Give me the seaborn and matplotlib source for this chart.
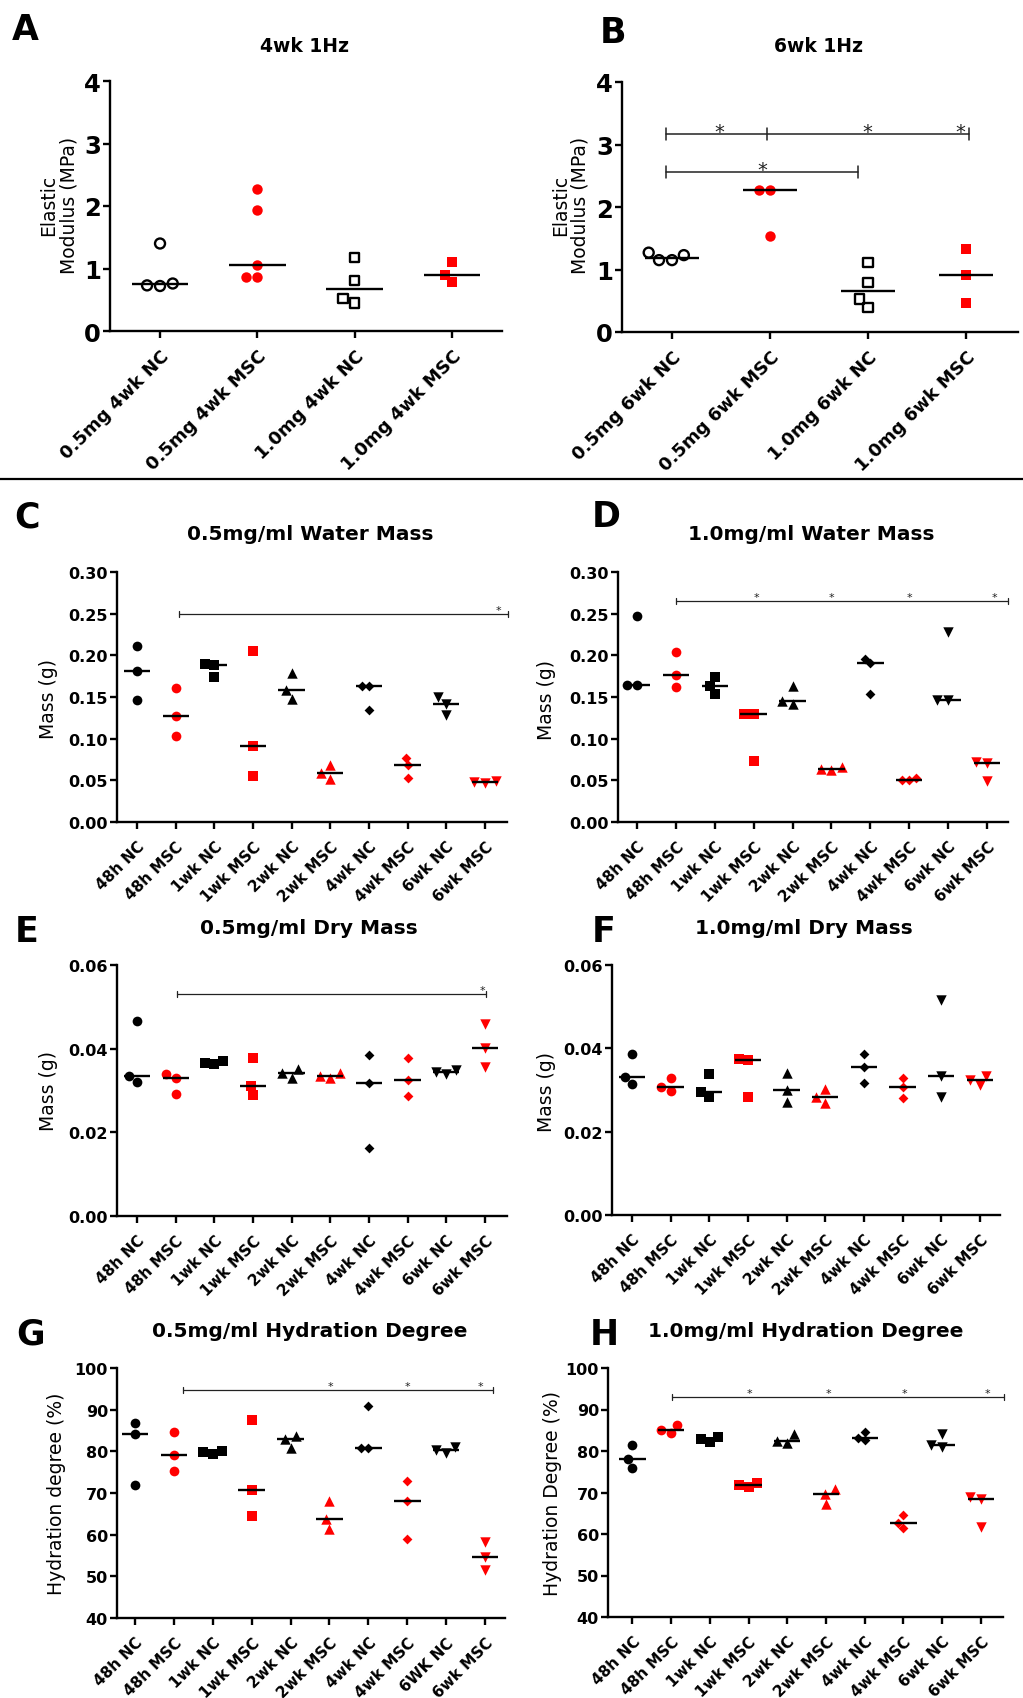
import numpy as np
import pandas as pd
import matplotlib
matplotlib.use("Agg")
import matplotlib.pyplot as plt
from matplotlib.lines import Line2D
import seaborn as sns

sns.set_theme(style="ticks")
plt.rcParams['font.family'] = ['DejaVu Sans']
plt.rcParams['axes.linewidth'] = 1.6
plt.rcParams['text.color'] = 'black'
plt.rcParams['axes.labelcolor'] = 'black'
plt.rcParams['xtick.color'] = 'black'
plt.rcParams['ytick.color'] = 'black'
plt.rcParams['axes.edgecolor'] = 'black'

# ---------------- data ----------------
cats_A = ["0.5mg 4wk NC", "0.5mg 4wk MSC", "1.0mg 4wk NC", "1.0mg 4wk MSC"]
vals_A = [[1.40, 0.76, 0.72, 0.73],
          [2.27, 1.93, 1.05, 0.87, 0.87],
          [1.18, 0.81, 0.52, 0.45],
          [1.10, 0.79, 0.90]]

cats_B = ["0.5mg 6wk NC", "0.5mg 6wk MSC", "1.0mg 6wk NC", "1.0mg 6wk MSC"]
vals_B = [[1.23, 1.15, 1.15, 1.27],
          [2.27, 2.27, 1.54],
          [1.11, 0.79, 0.53, 0.39],
          [1.33, 0.91, 0.47]]

time_cats = ["48h NC", "48h MSC", "1wk NC", "1wk MSC", "2wk NC",
             "2wk MSC", "4wk NC", "4wk MSC", "6wk NC", "6wk MSC"]
time_cats_G = ["48h NC", "48h MSC", "1wk NC", "1wk MSC", "2wk NC",
               "2wk MSC", "4wk NC", "4wk MSC", "6WK NC", "6wk MSC"]

vals_C = [[0.211, 0.181, 0.146], [0.161, 0.127, 0.103], [0.190, 0.188, 0.174],
          [0.205, 0.091, 0.055], [0.179, 0.159, 0.148], [0.069, 0.059, 0.052],
          [0.163, 0.163, 0.134], [0.077, 0.069, 0.053], [0.150, 0.142, 0.128],
          [0.049, 0.048, 0.047]]
vals_D = [[0.247, 0.165, 0.165], [0.204, 0.176, 0.162], [0.174, 0.163, 0.154],
          [0.130, 0.130, 0.073], [0.163, 0.145, 0.142], [0.066, 0.064, 0.062],
          [0.196, 0.191, 0.154], [0.053, 0.051, 0.050], [0.228, 0.146, 0.146],
          [0.072, 0.071, 0.049]]
vals_E = [[0.0465, 0.0335, 0.0321], [0.0339, 0.0331, 0.0291], [0.0370, 0.0365, 0.0363],
          [0.0377, 0.0310, 0.0289], [0.0351, 0.0343, 0.0331], [0.0343, 0.0335, 0.0330],
          [0.0385, 0.0319, 0.0162], [0.0377, 0.0326, 0.0286], [0.0350, 0.0345, 0.0340],
          [0.0459, 0.0401, 0.0357]]
vals_F = [[0.0386, 0.0332, 0.0314], [0.0328, 0.0308, 0.0298], [0.0338, 0.0296, 0.0284],
          [0.0374, 0.0372, 0.0284], [0.0342, 0.0299, 0.0272], [0.0302, 0.0283, 0.0270],
          [0.0386, 0.0356, 0.0318], [0.0328, 0.0308, 0.0280], [0.0517, 0.0333, 0.0284],
          [0.0333, 0.0324, 0.0312]]
vals_G = [[86.8, 84.2, 72.0], [84.6, 79.2, 75.4], [80.2, 79.8, 79.4],
          [87.6, 70.8, 64.6], [83.6, 83.0, 80.8], [68.2, 63.7, 61.3],
          [90.8, 80.9, 80.9], [73.0, 68.1, 59.0], [81.0, 80.3, 79.6],
          [58.3, 54.6, 51.5]]
vals_H = [[81.4, 78.0, 75.9], [86.2, 85.0, 84.3], [83.4, 82.8, 82.2],
          [72.2, 71.8, 71.3], [84.0, 82.5, 82.0], [70.8, 69.7, 67.2],
          [84.5, 83.1, 82.7], [64.6, 62.6, 61.5], [84.0, 81.5, 81.0],
          [69.0, 68.5, 61.8]]

# significance bars: (x_start, x_end, y, caps, star x positions)
sig_B = [(-0.06, 3.03, 3.17, [-0.06, 0.97, 3.03], [0.48, 1.99, 2.94]),
         (-0.06, 1.90, 2.56, [-0.06, 1.90], [0.92])]
sig_C = [(1.08, 9.60, 0.250, [1.08, 9.60], [9.36])]
sig_D = [(1.00, 9.55, 0.265, [1.00, 9.55], [3.08, 5.00, 7.00, 9.18])]
sig_E = [(1.03, 9.02, 0.0531, [1.03, 9.02], [8.94])]
sig_G = [(1.24, 9.20, 94.8, [1.24, 9.20], [5.02, 7.00, 8.87])]
sig_H = [(1.03, 9.60, 93.0, [1.03, 9.60], [3.03, 5.05, 7.03, 9.18])]

RED = "#ff0000"
BLACK = "#000000"

# ---------------- figure ----------------
W, H = 1023, 1699
fig = plt.figure(figsize=(W / 100, H / 100), dpi=100)
fig.patch.set_facecolor("white")


def rect(l, r, t, b):
    return [l / W, 1 - b / H, (r - l) / W, (b - t) / H]


def panel(box, cats, vals, markers, colors, open_flags, msizes, ylim, yticks, yfmt,
          xlim, ytick_size, xtick_size, xtick_weight, half_width, xpad):
    ax = fig.add_axes(rect(*box))
    rows = [(c, v) for c, vs in zip(cats, vals) for v in vs]
    df = pd.DataFrame(rows, columns=["group", "value"])
    for i, c in enumerate(cats):
        n0 = len(ax.collections)
        sns.swarmplot(data=df[df["group"] == c], x="group", y="value", order=cats,
                      marker=markers[i], color=colors[i], size=msizes[i],
                      linewidth=0, ax=ax, warn_thresh=1.0)
        if open_flags[i]:
            for coll in ax.collections[n0:]:
                coll.set_facecolor("none")
                coll.set_edgecolor(colors[i])
                coll.set_linewidth(1.7)
        med = np.median(vals[i])
        ax.hlines(med, i - half_width, i + half_width, color="black", lw=1.7, zorder=5)
    ax.set_xlabel("")
    ax.set_ylabel("")
    ax.set_ylim(*ylim)
    ax.set_yticks(yticks)
    ax.set_yticklabels([yfmt.format(t) for t in yticks], fontsize=ytick_size,
                       fontweight="bold", color="black")
    ax.set_xlim(*xlim)
    ax.set_xticks(range(len(cats)))
    ax.set_xticklabels(cats, fontsize=xtick_size, fontweight=xtick_weight, color="black")
    plt.setp(ax.get_xticklabels(), rotation=45, ha="right", va="top",
             rotation_mode="anchor")
    for s in ["top", "right"]:
        ax.spines[s].set_visible(False)
    for s in ["left", "bottom"]:
        ax.spines[s].set_linewidth(1.7)
        ax.spines[s].set_color("black")
    ax.tick_params(axis="both", direction="out", length=5, width=1.7, colors="black")
    ax.tick_params(axis="x", pad=xpad)
    ax.tick_params(axis="y", pad=1.5)
    ax.set_facecolor("white")
    return ax


def sig_bars(ax, bars, cap_frac, lw, star_size, star_off):
    ymin, ymax = ax.get_ylim()
    ch = cap_frac * (ymax - ymin)
    for x0, x1, y, caps, stars in bars:
        ax.plot([x0, x1], [y, y], color="#222222", lw=lw, clip_on=False, zorder=6)
        for cx in caps:
            ax.plot([cx, cx], [y - ch, y + ch], color="#222222", lw=lw,
                    clip_on=False, zorder=6)
        for sx in stars:
            ax.annotate("*", (sx, y), xytext=(0, star_off), textcoords="offset points",
                        ha="center", va="baseline", fontsize=star_size, color="#222222")


ab_markers = ["o", "o", "s", "s"]
ab_colors = [BLACK, RED, BLACK, RED]
ab_open = [True, False, True, False]
ab_sizes = [7.2, 7.5, 6.8, 7.0]

t_markers = ["o", "o", "s", "s", "^", "^", "D", "D", "v", "v"]
t_colors = [BLACK, RED] * 5
t_open = [False] * 10
t_sizes = [7.0, 7.0, 6.5, 6.5, 7.5, 7.5, 5.0, 5.0, 7.5, 7.5]

XT = 11  # x tick label size for time panels

# A
axA = panel((110, 502, 82, 332), cats_A, vals_A, ab_markers, ab_colors, ab_open, ab_sizes,
            (0, 4), [0, 1, 2, 3, 4], "{:.0f}", (-0.514, 3.514), 17.5, 13, "bold", 0.29, 6)
# B
axB = panel((622, 1018, 83, 333), cats_B, vals_B, ab_markers, ab_colors, ab_open, ab_sizes,
            (0, 4), [0, 1, 2, 3, 4], "{:.0f}", (-0.51, 3.53), 17.5, 13, "bold", 0.28, 6)
sig_bars(axB, sig_B, 0.024, 1.1, 14, -2.5)

tC = [0, 0.05, 0.10, 0.15, 0.20, 0.25, 0.30]
axC = panel((117, 507, 573, 823), time_cats, vals_C, t_markers, t_colors, t_open, t_sizes,
            (0, 0.30), tC, "{:.2f}", (-0.517, 9.57), 11.5, XT, "bold", 0.34, 7)
sig_bars(axC, sig_C, 0.012, 0.9, 8, 0.5)
axD = panel((618, 1008, 573, 823), time_cats, vals_D, t_markers, t_colors, t_open, t_sizes,
            (0, 0.30), tC, "{:.2f}", (-0.49, 9.54), 11.5, XT, "bold", 0.34, 7)
sig_bars(axD, sig_D, 0.012, 0.9, 8, 0.5)

tE = [0, 0.02, 0.04, 0.06]
axE = panel((117, 507, 966, 1217), time_cats, vals_E, t_markers, t_colors, t_open, t_sizes,
            (0, 0.06), tE, "{:.2f}", (-0.517, 9.57), 11.5, XT, "bold", 0.34, 7)
sig_bars(axE, sig_E, 0.012, 0.9, 8, 0.5)
axF = panel((612, 1000, 966, 1216), time_cats, vals_F, t_markers, t_colors, t_open, t_sizes,
            (0, 0.06), tE, "{:.2f}", (-0.517, 9.52), 11.5, XT, "bold", 0.34, 7)

tG = [40, 50, 60, 70, 80, 90, 100]
axG = panel((117, 505, 1369, 1619), time_cats_G, vals_G, t_markers, t_colors, t_open, t_sizes,
            (40, 100), tG, "{:.0f}", (-0.46, 9.51), 11.5, XT, "bold", 0.34, 7)
sig_bars(axG, sig_G, 0.012, 0.9, 8, 0.5)
axH = panel((608, 1003, 1369, 1618), time_cats, vals_H, t_markers, t_colors, t_open, t_sizes,
            (40, 100), tG, "{:.0f}", (-0.63, 9.57), 11.5, XT, "bold", 0.34, 7)
sig_bars(axH, sig_H, 0.012, 0.9, 8, 0.5)

# ---------------- texts ----------------
def ftext(x, y, s, **kw):
    fig.text(x / W, 1 - y / H, s, color="black", **kw)

# panel letters (baseline positions)
for lx, ly, s in [(12, 40, "A"), (600, 43, "B"), (14, 527, "C"), (592, 527, "D"),
                  (15, 942, "E"), (592, 942, "F"), (16, 1345, "G"), (590, 1345, "H")]:
    ftext(lx, ly, s, fontsize=25, fontweight="bold", ha="left", va="baseline")

# titles
for tx, ty, s, fs in [(305, 52, "4wk 1Hz", 13.5), (819, 52, "6wk 1Hz", 13.5),
                      (310, 540, "0.5mg/ml Water Mass", 14.5),
                      (811, 540, "1.0mg/ml Water Mass", 14.5),
                      (309, 934, "0.5mg/ml Dry Mass", 14.5),
                      (804, 934, "1.0mg/ml Dry Mass", 14.5),
                      (310, 1337, "0.5mg/ml Hydration Degree", 14.5),
                      (806, 1337, "1.0mg/ml Hydration Degree", 14.5)]:
    ftext(tx, ty, s, fontsize=fs, fontweight="bold", ha="center", va="baseline")

# y labels
for yx, yy, s in [(59, 205, "Elastic\nModulus (MPa)"), (570, 205, "Elastic\nModulus (MPa)"),
                  (48, 699, "Mass (g)"), (547, 700, "Mass (g)"),
                  (48, 1091, "Mass (g)"), (547, 1092, "Mass (g)"),
                  (57, 1494, "Hydration degree (%)"), (553, 1493, "Hydration Degree (%)")]:
    ftext(yx, yy, s, fontsize=13.5, rotation=90, ha="center", va="center",
          multialignment="center", linespacing=1.05)

# divider line
fig.add_artist(Line2D([0, 1], [1 - 480 / H, 1 - 480 / H], color="black", lw=1.6,
                      transform=fig.transFigure))

fig.savefig("out.png", dpi=100, facecolor="white")
